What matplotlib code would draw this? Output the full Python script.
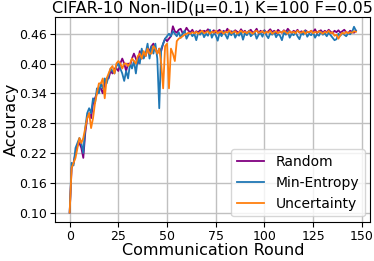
import matplotlib
matplotlib.use("Agg")
import matplotlib.pyplot as plt
import numpy as np

rounds = list(range(148))

random_acc = [
    0.10, 0.19, 0.20, 0.22, 0.235, 0.24, 0.23, 0.21, 0.26, 0.29,
    0.30, 0.29, 0.32, 0.33, 0.34, 0.35, 0.35, 0.34, 0.36, 0.37,
    0.37, 0.385, 0.38, 0.39, 0.39, 0.385, 0.40, 0.41, 0.40, 0.385,
    0.40, 0.395, 0.41, 0.42, 0.41, 0.40, 0.425, 0.41, 0.42, 0.415,
    0.43, 0.425, 0.435, 0.44, 0.43, 0.42, 0.43, 0.425, 0.44, 0.45,
    0.445, 0.45, 0.455, 0.475, 0.465,
    0.462, 0.468, 0.470, 0.461, 0.464, 0.472, 0.466, 0.463, 0.468, 0.460,
    0.465, 0.463, 0.467, 0.462, 0.466, 0.464, 0.469, 0.461, 0.463, 0.467,
    0.462, 0.465, 0.468, 0.460, 0.466, 0.463, 0.470, 0.462, 0.465, 0.461,
    0.467, 0.464, 0.462, 0.469, 0.463, 0.466, 0.460, 0.465, 0.468, 0.462,
    0.464, 0.470, 0.461, 0.466, 0.463, 0.467, 0.462, 0.465, 0.469, 0.463,
    0.466, 0.461, 0.468, 0.464, 0.462, 0.467, 0.463, 0.470, 0.465, 0.461,
    0.466, 0.463, 0.468, 0.462, 0.465, 0.460, 0.467, 0.464, 0.462, 0.466,
    0.463, 0.469, 0.461, 0.465, 0.467, 0.462, 0.466, 0.463, 0.468, 0.464,
    0.461, 0.466, 0.463, 0.467, 0.462, 0.465, 0.468, 0.463, 0.461, 0.466,
    0.464, 0.462, 0.466,
]

min_entropy_acc = [
    0.10, 0.20, 0.195, 0.23, 0.24, 0.25, 0.24, 0.22, 0.27, 0.30,
    0.31, 0.30, 0.33, 0.32, 0.35, 0.34, 0.36, 0.35, 0.37, 0.36,
    0.375, 0.39, 0.385, 0.38, 0.395, 0.40, 0.39, 0.38, 0.365, 0.385,
    0.37, 0.40, 0.39, 0.405, 0.38, 0.41, 0.40, 0.43, 0.41, 0.42,
    0.44, 0.41, 0.435, 0.42, 0.44, 0.41, 0.31, 0.43, 0.44, 0.45,
    0.455, 0.46, 0.455, 0.465, 0.460,
    0.455, 0.463, 0.452, 0.460, 0.466, 0.450, 0.458, 0.462, 0.455, 0.460,
    0.447, 0.462, 0.458, 0.465, 0.453, 0.460, 0.456, 0.468, 0.452, 0.461,
    0.457, 0.446, 0.462, 0.455, 0.464, 0.458, 0.450, 0.462, 0.457, 0.465,
    0.452, 0.460, 0.456, 0.463, 0.448, 0.461, 0.457, 0.466, 0.455, 0.459,
    0.463, 0.450, 0.458, 0.462, 0.454, 0.466, 0.457, 0.451, 0.461, 0.458,
    0.464, 0.453, 0.460, 0.456, 0.447, 0.462, 0.458, 0.465, 0.452, 0.460,
    0.457, 0.463, 0.455, 0.449, 0.461, 0.458, 0.466, 0.454, 0.460, 0.457,
    0.463, 0.452, 0.459, 0.456, 0.464, 0.458, 0.461, 0.455, 0.462, 0.457,
    0.452, 0.447, 0.449, 0.460, 0.456, 0.462, 0.458, 0.455, 0.461, 0.459,
    0.463, 0.474, 0.466,
]

uncertainty_acc = [
    0.10, 0.19, 0.20, 0.21, 0.23, 0.25, 0.24, 0.25, 0.27, 0.29,
    0.30, 0.27, 0.29, 0.32, 0.34, 0.36, 0.36, 0.37, 0.33, 0.37,
    0.38, 0.39, 0.395, 0.38, 0.40, 0.405, 0.40, 0.39, 0.40, 0.40,
    0.395, 0.40, 0.41, 0.405, 0.40, 0.415, 0.42, 0.41, 0.425, 0.415,
    0.43, 0.42, 0.42, 0.435, 0.43, 0.42, 0.43, 0.40, 0.35, 0.435,
    0.44, 0.35, 0.43, 0.42, 0.405,
    0.445, 0.450, 0.452, 0.455, 0.458, 0.460, 0.462, 0.460, 0.463, 0.461,
    0.464, 0.460, 0.463, 0.466, 0.461, 0.463, 0.465, 0.460, 0.464, 0.462,
    0.466, 0.461, 0.463, 0.465, 0.460, 0.464, 0.462, 0.467, 0.461, 0.463,
    0.465, 0.460, 0.463, 0.466, 0.462, 0.464, 0.461, 0.465, 0.463, 0.460,
    0.464, 0.466, 0.462, 0.463, 0.465, 0.461, 0.464, 0.462, 0.466, 0.460,
    0.463, 0.465, 0.461, 0.464, 0.462, 0.466, 0.463, 0.460, 0.465, 0.462,
    0.464, 0.461, 0.466, 0.463, 0.462, 0.465, 0.460, 0.464, 0.463, 0.466,
    0.461, 0.464, 0.462, 0.465, 0.463, 0.460, 0.464, 0.462, 0.466, 0.461,
    0.463, 0.456, 0.458, 0.450, 0.457, 0.462, 0.460, 0.464, 0.461, 0.463,
    0.462, 0.465, 0.464,
]

yticks = [0.10, 0.16, 0.22, 0.28, 0.34, 0.40, 0.46]

fig, ax = plt.subplots(figsize=(3.74, 2.61), dpi=100)
ax.plot(rounds, random_acc, color="purple", lw=1.3, label="Random")
ax.plot(rounds, min_entropy_acc, color="#1f77b4", lw=1.3, label="Min-Entropy")
ax.plot(rounds, uncertainty_acc, color="#ff7f0e", lw=1.3, label="Uncertainty")
ax.set_yticks(yticks)
ax.set_yticklabels([f"{v:.2f}" for v in yticks])
ax.set_xticks([0, 25, 50, 75, 100, 125, 150])
ax.grid(True, color="#c0c0c0", lw=1.0)
ax.set_axisbelow(True)
ax.tick_params(labelsize=9, pad=2.5)
ax.set_xlabel("Communication Round", fontsize=11.5, labelpad=0)
ax.set_ylabel("Accuracy", fontsize=11.5)
ax.yaxis.set_label_coords(-0.117, 0.5)
ax.set_title("CIFAR-10 Non-IID(\u03bc=0.1) K=100 F=0.05", fontsize=11.5, pad=3)
ax.legend(loc="lower right", fontsize=10, borderaxespad=0.4)
fig.subplots_adjust(left=0.148, right=0.99, top=0.935, bottom=0.15)
fig.savefig("out.png", dpi=100)
